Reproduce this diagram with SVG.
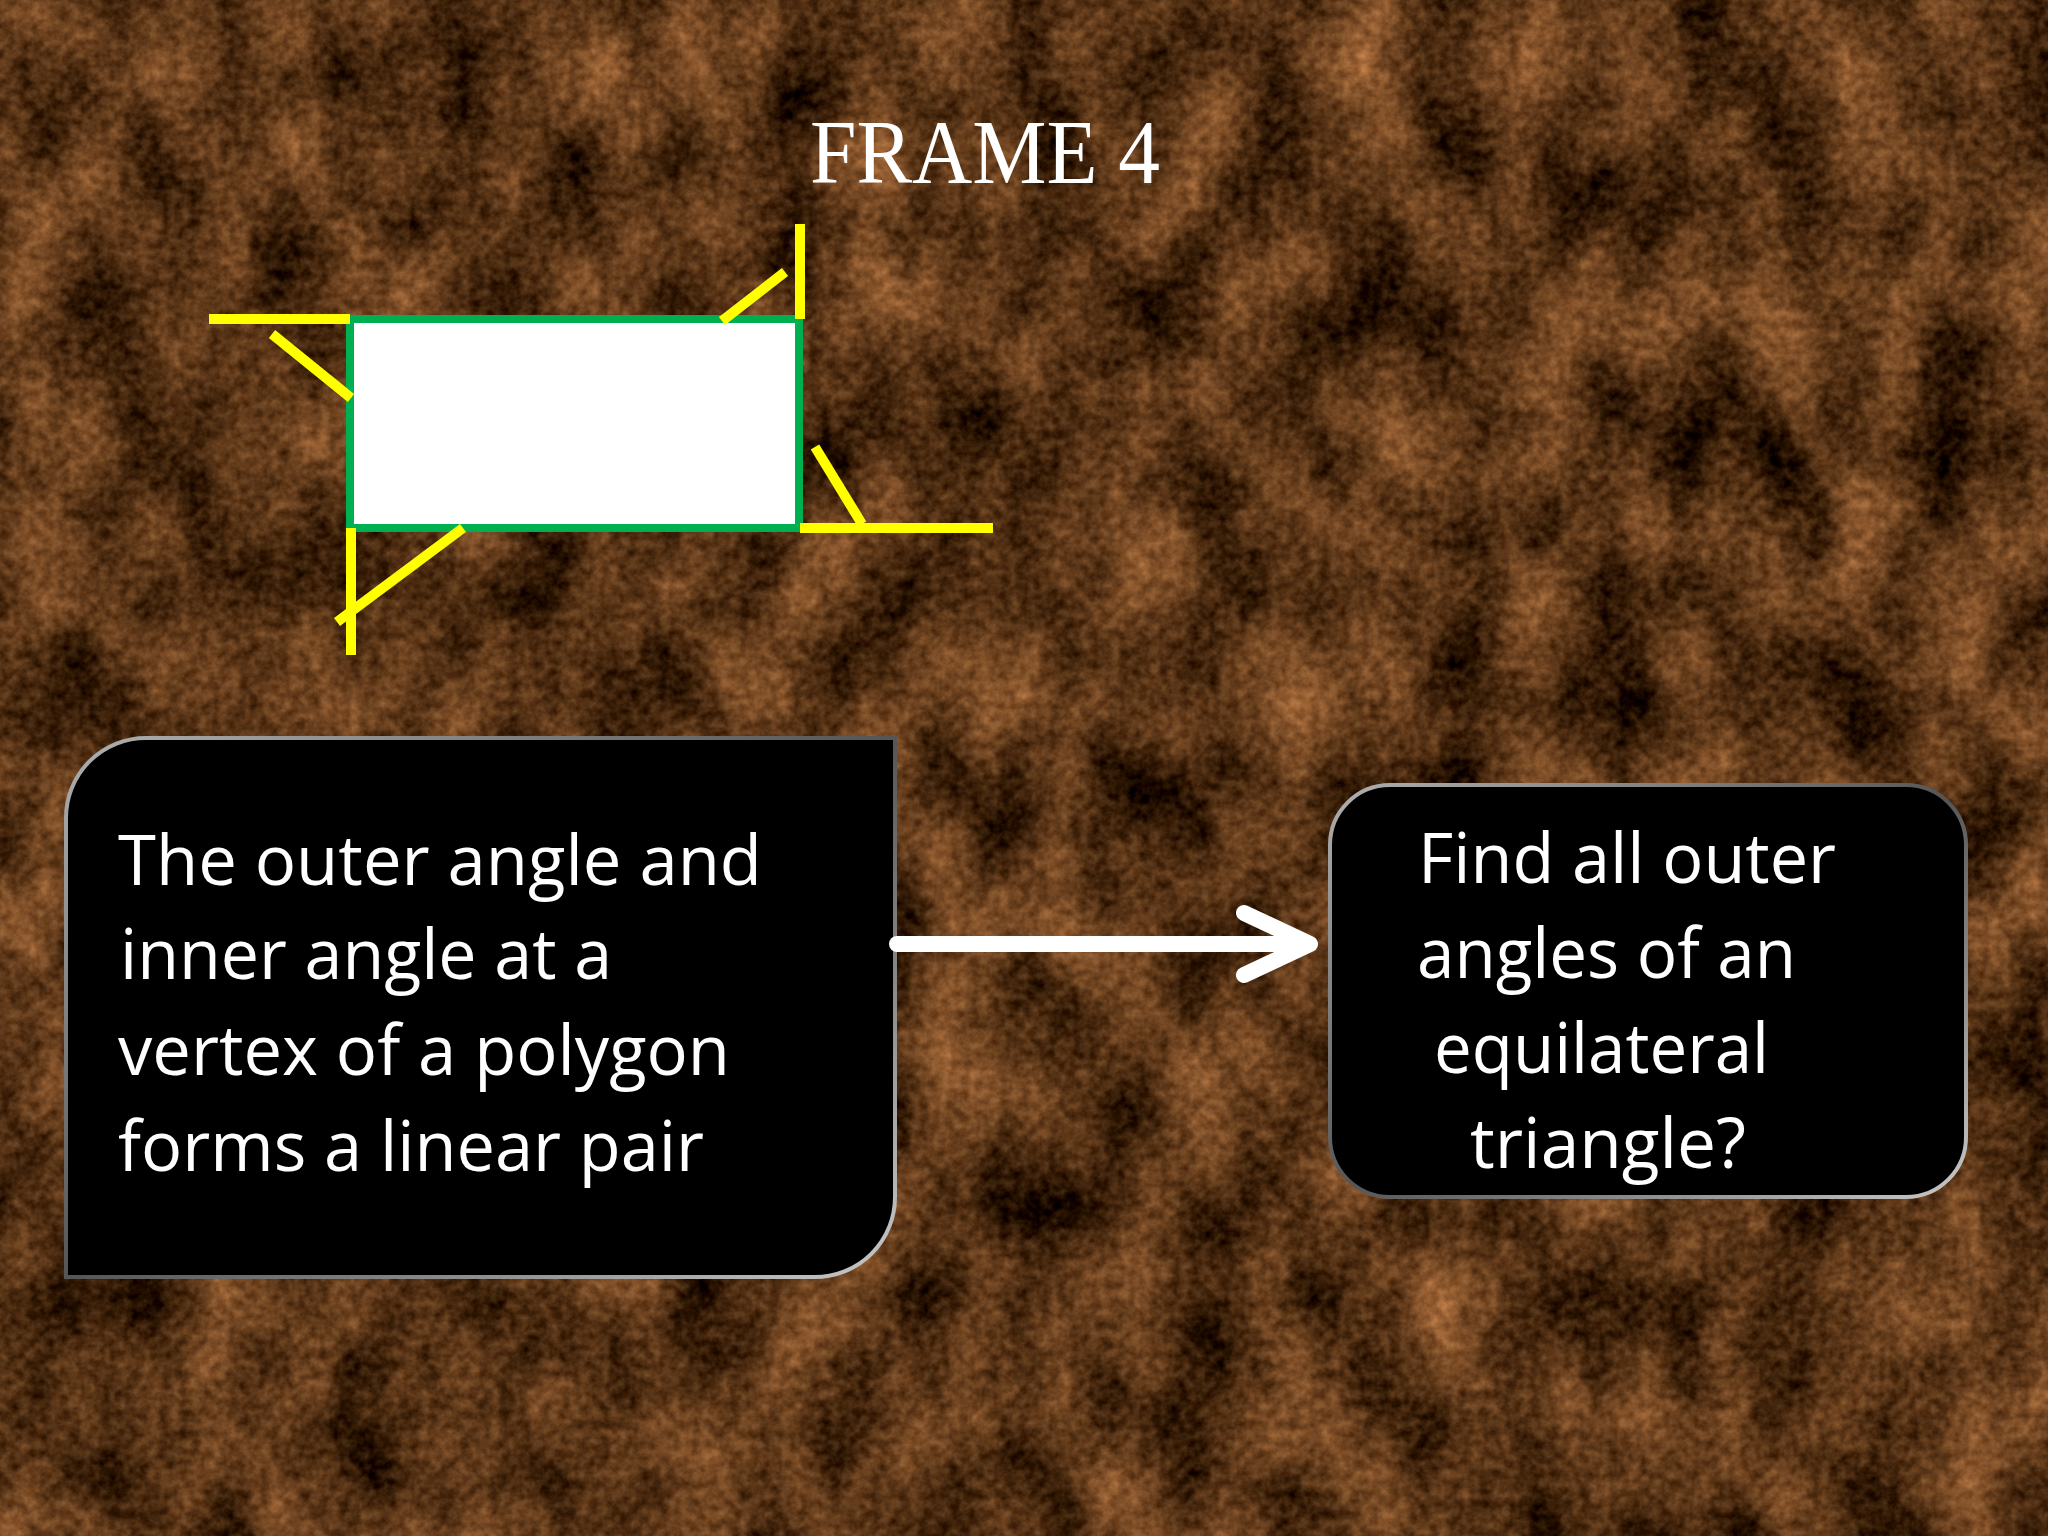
<svg xmlns="http://www.w3.org/2000/svg" width="2048" height="1536" viewBox="0 0 2048 1536">
  <defs>
    <filter id="marble" x="0" y="0" width="2048" height="1536" filterUnits="userSpaceOnUse" color-interpolation-filters="sRGB">
      <feTurbulence type="fractalNoise" baseFrequency="0.012 0.008" numOctaves="5" seed="7" result="n1"/>
      <feColorMatrix in="n1" type="matrix" result="c1" values="0.75 0 0 0 -0.06  0.52 0 0 0 -0.05  0.34 0 0 0 -0.04  0 0 0 0 1"/>
      <feTurbulence type="fractalNoise" baseFrequency="0.1" numOctaves="3" seed="11" result="n2"/>
      <feColorMatrix in="n2" type="matrix" result="c2" values="1 0 0 0 0  0.8 0 0 0 0  0.6 0 0 0 0  0 0 0 0 1"/>
      <feComposite in="c2" in2="c1" operator="arithmetic" k1="0" k2="0.35" k3="1" k4="-0.15"/>
    </filter>
    <linearGradient id="bevel" x1="0" y1="0" x2="1" y2="1">
      <stop offset="0" stop-color="#b0b0b0"/>
      <stop offset="0.5" stop-color="#555555"/>
      <stop offset="1" stop-color="#c8c8c8"/>
    </linearGradient>
    <style>
      .box { fill: #000000; stroke: url(#bevel); stroke-width: 4; }
      .txt { font-family: "Open Sans", "Liberation Sans", sans-serif; font-size: 70px; fill: #ffffff; }
      .title { font-family: "Liberation Serif", "DejaVu Serif", serif; font-size: 92px; fill: #ffffff; }
      .yl { stroke: #ffff00; stroke-width: 10; fill: none; }
      .conn { stroke: #ffffff; stroke-width: 16; fill: none; stroke-linecap: round; stroke-linejoin: round; }
    </style>
  </defs>

  <rect x="0" y="0" width="2048" height="1536" fill="#4e3322"/>
  <rect x="0" y="0" width="2048" height="1536" filter="url(#marble)"/>

  <g id="title">
    <text class="title" x="810" y="183" textLength="350" lengthAdjust="spacingAndGlyphs">FRAME 4</text>
  </g>

  <g id="figure">
    <rect x="350" y="319" width="449" height="209" fill="#ffffff" stroke="#00b050" stroke-width="8"/>
    <line class="yl" x1="209" y1="319" x2="350" y2="319"/>
    <line class="yl" x1="272" y1="334" x2="351" y2="398"/>
    <line class="yl" x1="800" y1="224" x2="800" y2="319"/>
    <line class="yl" x1="785" y1="272" x2="722" y2="321"/>
    <line class="yl" x1="800" y1="528" x2="993" y2="528"/>
    <line class="yl" x1="815" y1="447" x2="862" y2="524"/>
    <line class="yl" x1="351" y1="528" x2="351" y2="655"/>
    <line class="yl" x1="463" y1="528" x2="337" y2="622"/>
  </g>

  <g id="node-statement">
    <path class="box" d="M146,738 H895 V1197 A80,80 0 0 1 815,1277 H66 V818 A80,80 0 0 1 146,738 Z"/>
    <text class="txt" x="118" y="885" textLength="644" lengthAdjust="spacingAndGlyphs">The outer angle and</text>
    <text class="txt" x="120" y="979" textLength="492" lengthAdjust="spacingAndGlyphs">inner angle at a</text>
    <text class="txt" x="118" y="1075" textLength="612" lengthAdjust="spacingAndGlyphs">vertex of a polygon</text>
    <text class="txt" x="118" y="1171" textLength="586" lengthAdjust="spacingAndGlyphs">forms a linear pair</text>
  </g>

  <g id="node-question">
    <rect class="box" x="1330" y="785" width="636" height="412" rx="60" ry="60"/>
    <text class="txt" x="1418" y="883" textLength="418" lengthAdjust="spacingAndGlyphs">Find all outer</text>
    <text class="txt" x="1417" y="978" textLength="379" lengthAdjust="spacingAndGlyphs">angles of an</text>
    <text class="txt" x="1434" y="1073" textLength="335" lengthAdjust="spacingAndGlyphs">equilateral</text>
    <text class="txt" x="1470" y="1168" textLength="276" lengthAdjust="spacingAndGlyphs">triangle?</text>
  </g>

  <g id="connectors">
    <line class="conn" x1="897" y1="944" x2="1300" y2="944" stroke-linecap="butt"/>
    <polyline class="conn" points="1244,913 1310,944 1244,975"/>
  </g>
</svg>
